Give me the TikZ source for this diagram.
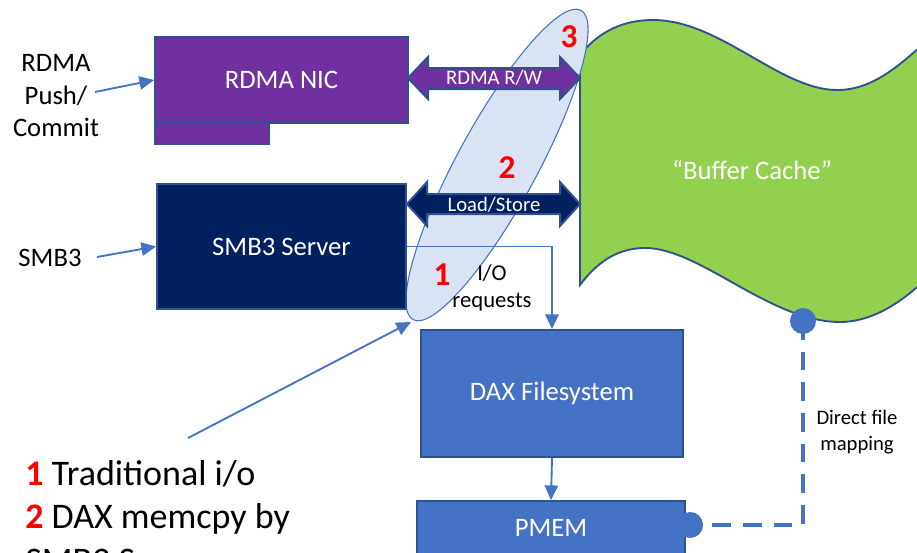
\documentclass[tikz,border=0pt]{standalone}
\usepackage{fontspec}
\setmainfont{Carlito}
\usetikzlibrary{arrows.meta,calc}

\definecolor{nicpurple}{HTML}{7030A0}
\definecolor{navy}{HTML}{002060}
\definecolor{officeblue}{HTML}{4472C4}
\definecolor{edgeblue}{HTML}{2F528F}
\definecolor{lightfill}{HTML}{DAE3F3}
\definecolor{cachegreen}{HTML}{92D050}
\definecolor{numred}{HTML}{FF0000}

\tikzset{
  box/.style={draw=edgeblue, line width=1.4pt, inner sep=0pt},
  boxtext/.style={text=white, font=\fontsize{20}{24}\selectfont},
  plain/.style={text=black, font=\fontsize{20}{24.4}\selectfont, align=center, inner sep=0pt},
  link/.style={draw=officeblue, line width=1.4pt},
  tip/.style={-{Triangle[length=11pt,width=10pt]}},
  fatarrow/.style={draw=edgeblue, line width=1.5pt, line join=miter},
  arrowtext/.style={text=white, font=\fontsize{15.5}{18}\selectfont, inner sep=0pt},
  stepnum/.style={text=numred, font=\fontsize{25}{28}\bfseries\selectfont, inner sep=0pt},
  mapline/.style={draw=officeblue, line width=3pt, dash pattern=on 14pt off 9pt},
  legend/.style={text=black, font=\fontsize{27}{31}\selectfont, inner sep=0pt, anchor=base west},
  hilite/.style={rotate around={61.5:(497,165)}},
}

\begin{document}
\begin{tikzpicture}[x=0.75pt, y=-0.75pt]
\useasboundingbox (0,0) rectangle (917,553);
\clip (0,0) rectangle (917,553);

% "Buffer Cache" wave
\filldraw[fill=cachegreen, draw=edgeblue, line width=1.4pt]
  (580,55) .. controls (600,30) and (625,20) .. (653,20)
  .. controls (720,20) and (780,90) .. (837,90)
  .. controls (870,90) and (895,70) .. (930,38)
  -- (930,275)
  .. controls (900,305) and (870,322) .. (840,322)
  .. controls (770,322) and (700,248) .. (645,248)
  .. controls (615,248) and (595,265) .. (580,285) -- cycle;
\node[boxtext] (cache) at (752,170) {“Buffer Cache”};

% highlight ellipse behind the access paths
\filldraw[fill=lightfill, draw=officeblue, line width=0.8pt, hilite] (497,165) ellipse [x radius=176, y radius=40];

% boxes
\node[box, fill=nicpurple, minimum width=85.5pt, minimum height=15.75pt] (nicbar) at (212,133.5) {};
\node[box, fill=nicpurple, minimum width=189.75pt, minimum height=64.5pt, boxtext] (nic) at (281.5,80) {RDMA NIC};
\node[box, fill=navy, minimum width=186.75pt, minimum height=93.75pt, boxtext] (smb) at (281.5,246.5) {SMB3 Server};
\node[box, fill=officeblue, minimum width=196.5pt, minimum height=95.25pt, boxtext] (dax) at (552,393.5) {DAX Filesystem};
\node[box, fill=officeblue, minimum width=201pt, minimum height=40.5pt, boxtext] (pmem) at (551,528) {PMEM};

% fat double arrows
\filldraw[fatarrow, fill=nicpurple]
  (408,78) -- (428,57) -- (428,68) -- (560,68) -- (560,57) -- (580,78)
  -- (560,99) -- (560,89) -- (428,89) -- (428,99) -- cycle;
\node[arrowtext] (rw) at (494,78) {RDMA R/W};
\filldraw[fatarrow, fill=navy]
  (407,204) -- (427,182) -- (427,194) -- (560,194) -- (560,182) -- (580,204)
  -- (560,226) -- (560,214) -- (427,214) -- (427,226) -- cycle;
\node[arrowtext] (ls) at (494,205) {Load/Store};

% I/O path
\draw[link, tip] (smb.east) -| (dax.north);
\draw[link, tip] (dax.south) -- (pmem.north);
\node[plain, font=\fontsize{17}{20}\selectfont] (io) at (492,288) {I/O\\requests};

% step numbers
\node[stepnum] (n3) at (569,37) {3};
\node[stepnum] (n2) at (507,168) {2};
\node[stepnum] (n1) at (442,275) {1};

% inputs
\node[plain] (rdmalbl) at (56,96) {RDMA\\Push/\\Commit};
\coordinate (rdmafrom) at (95,92);
\draw[link, tip] (rdmafrom) -- (nic.west);
\node[plain] (smblbl) at (50,258) {SMB3};
\coordinate (smbfrom) at (97,257);
\draw[link, tip] (smbfrom) -- (smb.west);

% direct file mapping
\coordinate (gdot) at (803,321);
\coordinate (pdot) at (690,525);
\draw[mapline] (gdot) |- (pdot);
\fill[officeblue] (gdot) circle[radius=9.75pt];
\fill[officeblue] (pdot) circle[radius=9.75pt];
\node[plain, font=\fontsize{15.5}{19.5}\selectfont] (maplbl) at (857,432) {Direct file\\mapping};

% legend
\coordinate (legtail) at (188,438);
\coordinate (ellbottom) at (411,322);
\draw[link, tip] (legtail) -- (ellbottom);
\node[legend] (leg1) at (25,485) {{\bfseries\color{numred}1} Traditional i/o};
\node[legend] (leg2) at (25,528) {{\bfseries\color{numred}2} DAX memcpy by};
\node[legend] (leg3) at (25,572) {SMB3 Server};
\end{tikzpicture}
\end{document}
